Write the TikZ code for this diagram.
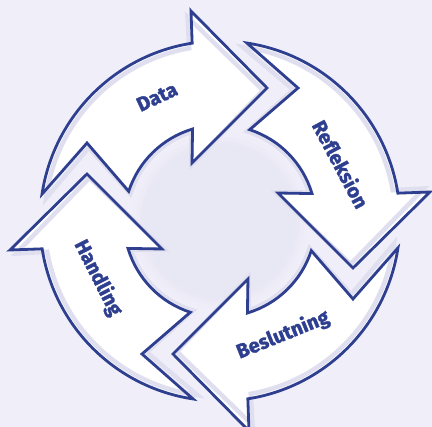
\documentclass[tikz,border=0pt]{standalone}
\usepackage{fontspec}
\setmainfont{Fira Sans}
\newfontfamily\lblfont[BoldFeatures={FakeBold=1.6}]{Fira Sans}
\definecolor{bg}{HTML}{F0EFF9}
\definecolor{disc}{HTML}{E8E7F4}
\definecolor{band}{HTML}{E0DFF0}
\definecolor{navy}{HTML}{2E3F90}
\newcommand{\arrowshape}[1]{\path[#1] (171.4:180) arc[start angle=171.4,end angle=98.9,radius=180] -- (-29,210) -- (47,133) -- (-28,58) -- (106.6:96) arc[start angle=106.6,end angle=162,radius=96] -- (-133,78) -- cycle;}
\tikzset{
  lbl/.style={font=\lblfont\bfseries\fontsize{20}{22}\selectfont, text=navy, inner sep=0pt},
  arrowfill/.style={fill=white},
  arrowband/.style={draw=band, line width=4.5pt, line join=miter},
  arrowline/.style={draw=navy, line width=2.8pt, line join=miter}
}
\begin{document}
\begin{tikzpicture}[x=1pt,y=1pt]
\useasboundingbox (-220,-206) rectangle (212,221);
\clip (-220,-206) rectangle (212,221);
\fill[bg] (-220,-206) rectangle (212,221);
\foreach \r/\o in {88/0.15, 84/0.3, 80/0.5, 76/0.75, 72/1} {\fill[disc, opacity=\o] (0,0) circle (\r);}
\foreach \a in {0,-90,-180,-270} {\begin{scope}[rotate=\a]\arrowshape{arrowfill}\end{scope}}
\foreach \a in {0,-90,-180,-270} {\begin{scope}[rotate=\a+1.2, scale=0.975]\arrowshape{arrowband}\end{scope}}
\foreach \a in {0,-90,-180,-270} {\begin{scope}[rotate=\a]\arrowshape{arrowline}\end{scope}}
\node[lbl, rotate=25] (data) at (-63,124) {Data};
\node[lbl, rotate=-62] (refl) at (121,57) {Refleksion};
\node[lbl, rotate=22] (besl) at (63,-114) {Beslutning};
\node[lbl, rotate=-63] (hand) at (-122,-57) {Handling};
\end{tikzpicture}
\end{document}
